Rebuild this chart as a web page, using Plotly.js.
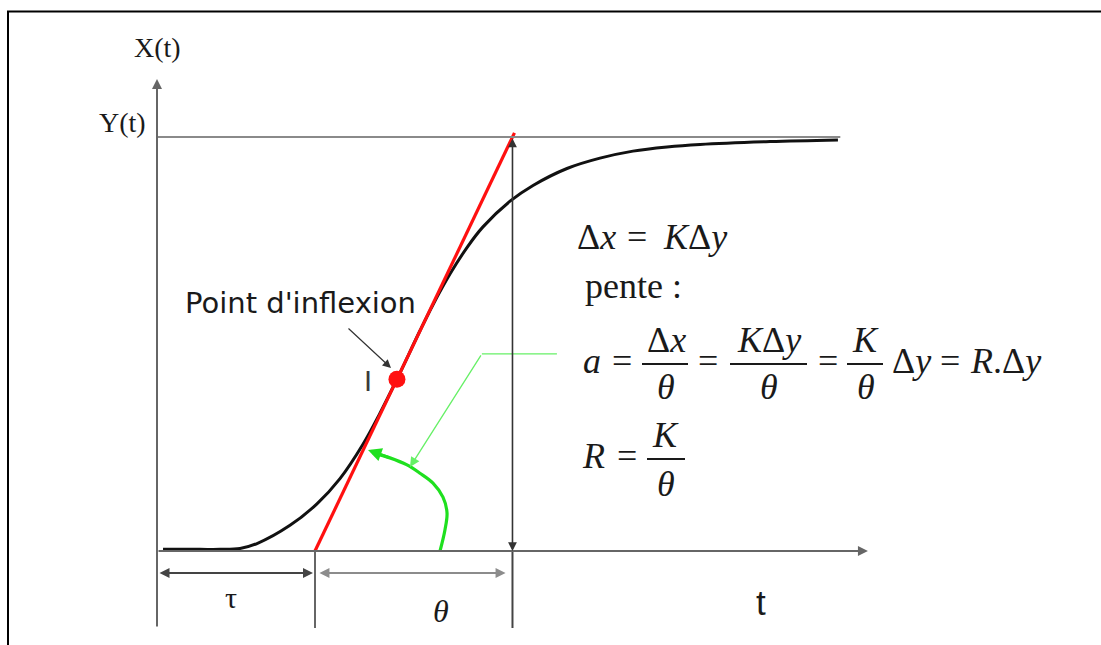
<!DOCTYPE html>
<html>
<head>
<meta charset="utf-8">
<script src="https://cdn.plot.ly/plotly-3.0.1.min.js"></script>
<style>html,body{margin:0;padding:0;background:#fff;}</style>
</head>
<body>
<div id="chart" style="width:1101px;height:645px;"></div>
<script>
// Step response X(t) with the tangent drawn through the inflection point I.
// Time unit is arbitrary; X(t) is normalised so that the final value Y(t) = 1.

const tau = 16;      // dead time τ (tangent meets the time axis)
const theta = 20;    // θ: time for the tangent to rise from 0 to the final value
const finalValue = 1;

// S-shaped response
const tResp = [0.61, 4.35, 6.38, 8.41, 10.13, 13.47, 16.20, 18.53, 20.86, 22.58, 24.30, 26.63, 27.95,
               29.67, 31.39, 33.01, 35.75, 38.08, 41.52, 44.86, 48.20, 51.65, 54.99, 62.08, 68.96];
const xResp = [0.004, 0.004, 0.004, 0.006, 0.018, 0.062, 0.114, 0.175, 0.258, 0.333, 0.415, 0.532, 0.595,
               0.669, 0.733, 0.783, 0.845, 0.883, 0.924, 0.949, 0.966, 0.976, 0.982, 0.989, 0.993];

// inflection point (lies on the tangent)
const tInflex = 24.3;
const xInflex = (tInflex - tau) / theta;
const tangentTop = 1.01;

// green angle marker between the time axis and the tangent
const tArc = [28.66, 29.16, 29.37, 28.96, 27.95, 26.63, 25.32, 23.59, 21.87];
const xArc = [0.0, 0.051, 0.092, 0.130, 0.164, 0.188, 0.208, 0.225, 0.237];

const W = 1101, H = 645;
const X_RANGE = [-15.9, 95.6];
const Y_RANGE = [-0.227, 1.331];
const px = v => v / W;        // pixel column -> paper x
const py = v => 1 - v / H;    // pixel row -> paper y

const INK = '#1a1a1a';
const AXIS = '#666666';
const SERIF = 'Liberation Serif, Times New Roman, serif';
const SANS = 'Liberation Sans, Arial, sans-serif';
const WIDE_SANS = 'DejaVu Sans, Verdana, sans-serif';
const GREEN = '#1fe01f';
const RED = '#ff1010';

const yLow = -0.186;          // lower end of the construction lines
const dimY = -0.053;          // level of the τ / θ dimension arrows

const traces = [
  { x: tResp, y: xResp, mode: 'lines', line: { color: '#111', width: 3, shape: 'spline', smoothing: 1 }, hoverinfo: 'skip' },
  { x: [tau, tau + theta * tangentTop], y: [0, finalValue * tangentTop], mode: 'lines',
    line: { color: RED, width: 3.2 }, hoverinfo: 'skip' },
  { x: tArc, y: xArc, mode: 'lines', line: { color: GREEN, width: 3.2, shape: 'spline' }, hoverinfo: 'skip' },
  { x: [tInflex], y: [xInflex], mode: 'markers', marker: { color: RED, size: 17 }, hoverinfo: 'skip' }
];

const shapes = [
  // outer frame
  { type: 'rect', xref: 'paper', yref: 'paper', x0: px(8), x1: 1.02, y0: -0.02, y1: py(11.5),
    line: { color: '#000', width: 2 } },
  // final value level Y(t)
  { type: 'line', xref: 'x', yref: 'y', x0: 0, x1: 69.2, y0: finalValue, y1: finalValue,
    line: { color: '#8a8a8a', width: 2 } },
  // construction verticals at τ and τ+θ
  { type: 'line', xref: 'x', yref: 'y', x0: tau, x1: tau, y0: 0, y1: yLow, line: { color: AXIS, width: 2 } },
  { type: 'line', xref: 'x', yref: 'y', x0: tau + theta, x1: tau + theta, y0: 0, y1: yLow,
    line: { color: '#444', width: 2 } },
  // horizontal part of the green leader
  { type: 'line', xref: 'x', yref: 'y', x0: 40.5, x1: 32.9, y0: 0.476, y1: 0.476,
    line: { color: '#66f066', width: 1.3 } }
];

function arrow(x0, y0, x1, y1, color, width, both, size) {
  return {
    x: x1, y: y1, ax: x0, ay: y0, xref: 'x', yref: 'y', axref: 'x', ayref: 'y',
    text: '', showarrow: true, arrowhead: 2, startarrowhead: 2,
    arrowsize: size || 1, startarrowsize: size || 1, arrowwidth: width, arrowcolor: color,
    arrowside: both ? 'end+start' : 'end', standoff: 0, startstandoff: 0
  };
}

// text centred at pixel column cx, with its baseline on pixel row base
function tok(text, cx, base, size, opts) {
  const o = opts || {};
  const family = o.family || SERIF;
  const k = family === SERIF ? 0.34 : 0.35;
  return {
    xref: 'paper', yref: 'paper', x: px(cx), y: py(base - k * size),
    xanchor: o.anchor || 'center', yanchor: 'middle', text: text, showarrow: false,
    font: { family: family, size: size, color: o.color || INK }
  };
}

function bar(x0, x1, y) {
  return { type: 'line', xref: 'paper', yref: 'paper', x0: px(x0), x1: px(x1), y0: py(y), y1: py(y),
           line: { color: INK, width: 2 } };
}

const annotations = [
  // axes
  arrow(0, yLow, 0, 1.14, AXIS, 2, false),
  arrow(0, 0, 72.0, 0, AXIS, 2, false),
  // Δx double arrow on the τ+θ vertical
  arrow(tau + theta, finalValue, tau + theta, 0, '#333', 1.6, true, 1.1),
  // dimension arrows
  arrow(0.1, dimY, tau - 0.2, dimY, '#444', 2, true),
  arrow(tau + 0.3, dimY, tau + theta - 0.7, dimY, '#8c8c8c', 2, true),
  // pointer to the inflection point
  arrow(19.24, 0.541, 23.7, 0.442, '#333', 1.2, false, 1.4),
  // green leader towards the angle marker
  arrow(32.9, 0.476, 25.62, 0.203, '#66f066', 1.3, false, 1.5),
  // head of the angle marker
  arrow(23.59, 0.225, 21.37, 0.244, GREEN, 3, false, 0.9),

  // axis names
  tok('X(t)', 157, 57, 28),
  tok('Y(t)', 148, 132, 28, { anchor: 'right' }),
  tok('τ', 231, 608, 30),
  tok('<i>θ</i>', 441, 622, 32),
  tok('t', 761, 615, 35, { family: SANS }),
  tok("Point d'inflexion", 183, 313, 29, { family: WIDE_SANS, anchor: 'left' }),
  tok('I', 368, 391, 29, { family: SANS, color: '#3a3a3a' }),

  // Δx = KΔy
  tok('Δ<i>x</i>', 596, 249, 36),
  tok('=', 637, 249, 36),
  tok('<i>K</i>Δ<i>y</i>', 695, 249, 36),
  // pente :
  tok('pente :', 583, 298, 36, { anchor: 'left' }),
  // a = Δx/θ = KΔy/θ = K/θ Δy = R.Δy
  tok('<i>a</i>', 592, 373, 36),
  tok('=', 622, 373, 36),
  tok('Δ<i>x</i>', 666, 352, 36),
  tok('<i>θ</i>', 666, 399, 36),
  tok('=', 708, 373, 36),
  tok('<i>K</i>Δ<i>y</i>', 769, 352, 36),
  tok('<i>θ</i>', 769, 399, 36),
  tok('=', 828, 373, 36),
  tok('<i>K</i>', 865, 352, 36),
  tok('<i>θ</i>', 866, 399, 36),
  tok('Δ<i>y</i>', 911, 373, 36),
  tok('=', 950, 373, 36),
  tok('<i>R</i>.Δ<i>y</i>', 1006, 373, 36),
  // R = K/θ
  tok('<i>R</i>', 593, 468, 36),
  tok('=', 627, 468, 36),
  tok('<i>K</i>', 665, 447, 36),
  tok('<i>θ</i>', 666, 496, 36)
];

shapes.push(bar(642, 688, 364), bar(730, 807, 364), bar(847, 883, 364), bar(647, 685, 459));

const layout = {
  width: W, height: H,
  margin: { l: 0, r: 0, t: 0, b: 0 },
  paper_bgcolor: '#fff', plot_bgcolor: '#fff',
  showlegend: false,
  xaxis: { range: X_RANGE, visible: false, fixedrange: true },
  yaxis: { range: Y_RANGE, visible: false, fixedrange: true },
  shapes: shapes,
  annotations: annotations
};

Plotly.newPlot('chart', traces, layout, { staticPlot: true, displayModeBar: false });
</script>
</body>
</html>
